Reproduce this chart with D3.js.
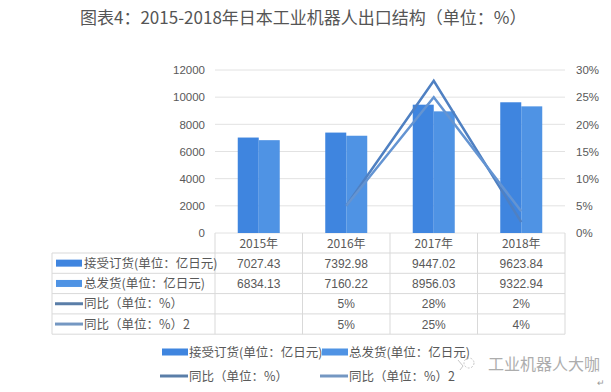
<!DOCTYPE html>
<html><head><meta charset="utf-8">
<script src="https://cdn.jsdelivr.net/npm/d3@7/dist/d3.min.js"></script>
<style>
html,body{margin:0;padding:0;background:#fff;}
svg{display:block;font-family:"Microsoft YaHei","Noto Sans CJK SC",sans-serif;}
</style></head>
<body>
<script>
const title = "图表4：2015-2018年日本工业机器人出口结构（单位：%）";
const categories = ["2015年","2016年","2017年","2018年"];
const seriesNames = ["接受订货(单位：亿日元)","总发货(单位：亿日元)","同比（单位：%）","同比（单位：%）2"];
const orders = [7027.43, 7392.98, 9447.02, 9623.84];
const shipments = [6834.13, 7160.22, 8956.03, 9322.94];
const growth1 = [null, 5, 28, 2];
const growth2 = [null, 5, 25, 4];
const leftTicks = [0,2000,4000,6000,8000,10000,12000];
const rightTicks = [0,5,10,15,20,25,30];
const orderLabels = ["7027.43","7392.98","9447.02","9623.84"];
const shipLabels = ["6834.13","7160.22","8956.03","9322.94"];
const g1Labels = ["","5%","28%","2%"];
const g2Labels = ["","5%","25%","4%"];
const watermark = "工业机器人大咖";

const W=611,H=392;
const colBar1="#3f85df", colBar2="#4f93e4";
const colLine1="#4f80c2", colLine2="#6494d2";
const keyLine1="#5a7ea8", keyLine2="#7497c2";
const textCol="#595959", gridCol="#e2e2e2";

const svg=d3.select("body").append("svg").attr("width",W).attr("height",H);

svg.append("text").attr("x",80).attr("y",24).attr("font-size",17).attr("fill","#555").text(title);

const plotL=215, plotR=565, plotT=70, plotB=233;
const x=d3.scaleBand().domain(categories).range([plotL,plotR]);
const yL=d3.scaleLinear().domain([0,12000]).range([plotB,plotT]);
const yR=d3.scaleLinear().domain([0,30]).range([plotB,plotT]);

// gridlines
svg.append("g").selectAll("line").data(leftTicks).join("line")
  .attr("x1",plotL).attr("x2",plotR).attr("y1",d=>yL(d)).attr("y2",d=>yL(d))
  .attr("stroke",gridCol).attr("stroke-width",1);

// left axis
const axL=d3.axisLeft(yL).tickValues(leftTicks).tickSize(0).tickPadding(0).tickFormat(d3.format("d"));
const gL=svg.append("g").attr("transform",`translate(${plotL-10},0)`).call(axL);
gL.select(".domain").remove();
gL.selectAll("text").attr("font-size",11.5).attr("fill",textCol).attr("font-family","Liberation Sans, Arial, sans-serif");
// right axis
const axR=d3.axisRight(yR).tickValues(rightTicks).tickSize(0).tickPadding(0).tickFormat(d=>d+"%");
const gR=svg.append("g").attr("transform",`translate(${plotR+11},0)`).call(axR);
gR.select(".domain").remove();
gR.selectAll("text").attr("font-size",11.5).attr("fill",textCol).attr("font-family","Liberation Sans, Arial, sans-serif");

// bars
const bw=21;
svg.append("g").selectAll("rect").data(orders).join("rect")
  .attr("x",(d,i)=>x(categories[i])+x.bandwidth()/2-bw).attr("width",bw)
  .attr("y",d=>yL(d)).attr("height",d=>plotB-yL(d)).attr("fill",colBar1);
svg.append("g").selectAll("rect").data(shipments).join("rect")
  .attr("x",(d,i)=>x(categories[i])+x.bandwidth()/2).attr("width",bw)
  .attr("y",d=>yL(d)).attr("height",d=>plotB-yL(d)).attr("fill",colBar2);

// lines
const line=d3.line().defined(d=>d.v!=null).x(d=>x(d.c)+x.bandwidth()/2).y(d=>yR(d.v));
svg.append("path").datum(growth1.map((v,i)=>({c:categories[i],v})))
  .attr("d",line).attr("fill","none").attr("stroke",colLine1).attr("stroke-width",2.5).attr("stroke-linejoin","miter");
svg.append("path").datum(growth2.map((v,i)=>({c:categories[i],v})))
  .attr("d",line).attr("fill","none").attr("stroke",colLine2).attr("stroke-width",2.5).attr("stroke-linejoin","miter");

// data table
const tblL=52, rowH=20.3, hdrTop=plotB, tblRight=plotR;
const rowsTop=hdrTop+20;
const tg=svg.append("g");
const hy=d3.range(5).map(i=>rowsTop+i*rowH);
tg.selectAll("line.h").data(hy).join("line").attr("class","h")
  .attr("x1",tblL).attr("x2",tblRight).attr("y1",d=>d).attr("y2",d=>d)
  .attr("stroke","#d9d9d9");
const vx=[plotL, ...categories.map(c=>x(c)+x.bandwidth())];
tg.selectAll("line.v").data(vx).join("line").attr("class","v")
  .attr("x1",d=>d).attr("x2",d=>d).attr("y1",hdrTop).attr("y2",rowsTop+4*rowH)
  .attr("stroke","#d9d9d9");
tg.append("line").attr("x1",tblL).attr("x2",tblL).attr("y1",rowsTop).attr("y2",rowsTop+4*rowH).attr("stroke","#d9d9d9");
tg.selectAll("text.hd").data(categories).join("text").attr("class","hd")
  .attr("x",c=>x(c)+x.bandwidth()/2).attr("y",hdrTop+15).attr("text-anchor","middle")
  .attr("font-size",12).attr("fill",textCol).text(d=>d);
const rows=[orderLabels,shipLabels,g1Labels,g2Labels];
rows.forEach((r,ri)=>{
  const cy=rowsTop+ri*rowH+rowH/2;
  tg.selectAll("text.r"+ri).data(r).join("text")
    .attr("x",(d,i)=>x(categories[i])+x.bandwidth()/2).attr("y",cy+4.5).attr("text-anchor","middle")
    .attr("font-size",12).attr("fill",textCol).attr("font-family","Liberation Sans, Arial, sans-serif").text(d=>d);
  if(ri<2){
    tg.append("rect").attr("x",56).attr("y",cy-3.5).attr("width",26).attr("height",7).attr("fill",ri===0?colBar1:colBar2);
  } else {
    tg.append("line").attr("x1",55).attr("x2",83).attr("y1",cy).attr("y2",cy).attr("stroke",ri===2?keyLine1:keyLine2).attr("stroke-width",3);
  }
  tg.append("text").attr("x",84).attr("y",cy+4.5).attr("font-size",12.5).attr("fill",textCol).text(seriesNames[ri]);
});

// bottom legend
const leg=[{x:162,y:352,t:"rect",c:colBar1,n:seriesNames[0]},{x:322,y:352,t:"rect",c:colBar2,n:seriesNames[1]},
           {x:162,y:376,t:"line",c:keyLine1,n:seriesNames[2]},{x:322,y:376,t:"line",c:keyLine2,n:seriesNames[3]}];
const lg=svg.append("g");
leg.forEach(l=>{
  if(l.t==="rect") lg.append("rect").attr("x",l.x).attr("y",l.y-3.5).attr("width",26).attr("height",7).attr("fill",l.c);
  else lg.append("line").attr("x1",l.x-2).attr("x2",l.x+26).attr("y1",l.y).attr("y2",l.y).attr("stroke",l.c).attr("stroke-width",3);
  lg.append("text").attr("x",l.x+27).attr("y",l.y+4.5).attr("font-size",12.5).attr("fill",textCol).text(l.n);
});

// watermark
const wm=svg.append("g").attr("opacity",0.8);
wm.append("circle").attr("cx",469).attr("cy",363).attr("r",5).attr("fill","none").attr("stroke","#aaa").attr("stroke-width",0.8).attr("stroke-dasharray","2,1.5");
wm.append("path").attr("d","M458,360 L463,366 L460,370").attr("fill","none").attr("stroke","#aaa").attr("stroke-width",0.8);
wm.append("text").attr("x",488).attr("y",370).attr("font-size",16).attr("fill","#999").text(watermark);
svg.append("text").attr("x",597).attr("y",386).attr("font-size",9).attr("fill","#999").text("↵");
</script>
</body></html>
